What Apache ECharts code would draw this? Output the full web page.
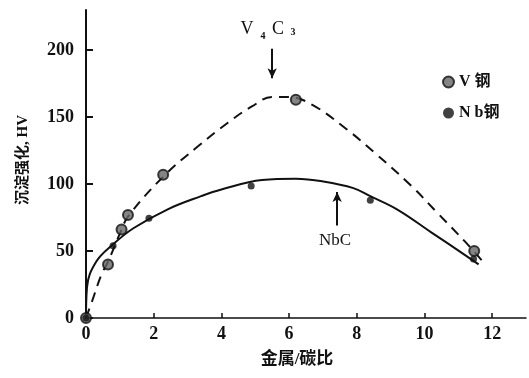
<!DOCTYPE html>
<html>
<head>
<meta charset="utf-8">
<script src="https://cdn.jsdelivr.net/npm/echarts@6/dist/echarts.min.js"></script>
<style>html,body{margin:0;padding:0;background:#fff;}#c{width:529px;height:378px;}</style>
</head>
<body>
<div id="c"></div>
<script>
// Measured points
var vSteel = [[0,0],[0.65,40],[1.05,66],[1.24,77],[2.28,107],[6.2,163],[11.47,50]];
var nbSteel = [[0,0],[0.8,54],[1.86,74.5],[4.88,98.5],[8.4,88],[11.45,44]];
// Fitted curves as drawn in the figure
var vCurve = [[0,0],[0.2,14],[0.45,32],[0.65,42],[1.0,63],[1.25,76],[2.3,106],[3.3,128],[4.2,146],[4.9,158],[5.5,165],[6.0,165],[6.7,159],[7.7,141],[8.5,124],[9.6,99],[10.4,78],[11.2,57],[11.8,40]];
var nbCurve = [[0,0],[0.03,23],[0.3,42],[0.8,55],[1.4,67],[2.4,81],[3.4,91],[4.0,96],[5.2,103],[6.2,104],[7.0,102],[7.9,97],[8.4,91],[9.2,81],[10.2,64],[11.2,47],[11.6,40]];
var xTicks = [0,2,4,6,8,10,12];
var yTicks = [0,50,100,150,200];
var seriesNames = ['V 钢','N b钢'];

var serif = '"Liberation Serif","DejaVu Serif","Noto Sans CJK SC",serif';
var chart = echarts.init(document.getElementById('c'));
chart.setOption({
  animation:false,
  backgroundColor:'#fff',
  grid:{left:86,right:3,top:10,bottom:60},
  xAxis:{
    type:'value',min:0,max:13,
    axisLine:{lineStyle:{color:'#111',width:1.5}},
    axisTick:{inside:true,length:5,customValues:xTicks,lineStyle:{color:'#111',width:1.5}},
    axisLabel:{customValues:xTicks,margin:7,color:'#111',fontSize:18,fontWeight:'bold',fontFamily:serif},
    splitLine:{show:false}
  },
  yAxis:{
    type:'value',min:0,max:230,
    axisLine:{show:true,lineStyle:{color:'#111',width:2}},
    axisTick:{show:true,inside:true,length:7,customValues:yTicks,lineStyle:{color:'#111',width:2}},
    axisLabel:{customValues:yTicks,margin:12,color:'#111',fontSize:18,fontWeight:'bold',fontFamily:serif},
    splitLine:{show:false}
  },
  legend:{
    orient:'vertical',left:437,top:69,itemGap:15,itemWidth:11,itemHeight:11,
    data:seriesNames,
    textStyle:{color:'#111',fontSize:16,fontWeight:'bold',fontFamily:serif}
  },
  graphic:[
    {type:'text',x:23,y:160,rotation:Math.PI/2,style:{text:'沉淀强化, HV',fill:'#111',font:'bold 15px '+serif,align:'center',verticalAlign:'middle'}},
    {type:'text',x:297,y:360,style:{text:'金属/碳比',fill:'#111',font:'bold 17px '+serif,align:'center',verticalAlign:'middle'}},
    {type:'text',x:247,y:29,style:{text:'V',fill:'#111',font:'18px '+serif,align:'center',verticalAlign:'middle'}},
    {type:'text',x:263,y:36,style:{text:'4',fill:'#111',font:'bold 10px '+serif,align:'center',verticalAlign:'middle'}},
    {type:'text',x:278,y:29,style:{text:'C',fill:'#111',font:'18px '+serif,align:'center',verticalAlign:'middle'}},
    {type:'text',x:293,y:32,style:{text:'3',fill:'#111',font:'bold 10px '+serif,align:'center',verticalAlign:'middle'}},
    {type:'text',x:335,y:241,style:{text:'NbC',fill:'#111',font:'17px '+serif,align:'center',verticalAlign:'middle'}}
  ],
  series:[
    {type:'line',data:vCurve,smooth:0.4,symbol:'none',silent:true,
     lineStyle:{color:'#111',width:2,type:[10,7]},
     markLine:{silent:true,symbol:['none','arrow'],symbolSize:[7,10],label:{show:false},
       lineStyle:{color:'#111',width:2,type:'solid'},
       data:[[{coord:[5.5,201]},{coord:[5.5,179]}],[{coord:[7.42,69]},{coord:[7.42,94]}]]}},
    {type:'line',data:nbCurve,smooth:0.4,symbol:'none',silent:true,
     lineStyle:{color:'#111',width:2,type:'solid'}},
    {name:seriesNames[0],type:'scatter',data:vSteel,symbol:'circle',symbolSize:10,
     itemStyle:{color:'#666',borderColor:'#111',borderWidth:2},z:5},
    {name:seriesNames[1],type:'scatter',data:nbSteel,symbol:'circle',symbolSize:7,
     itemStyle:{color:'#111'},z:6}
  ]
});
</script>
</body>
</html>
